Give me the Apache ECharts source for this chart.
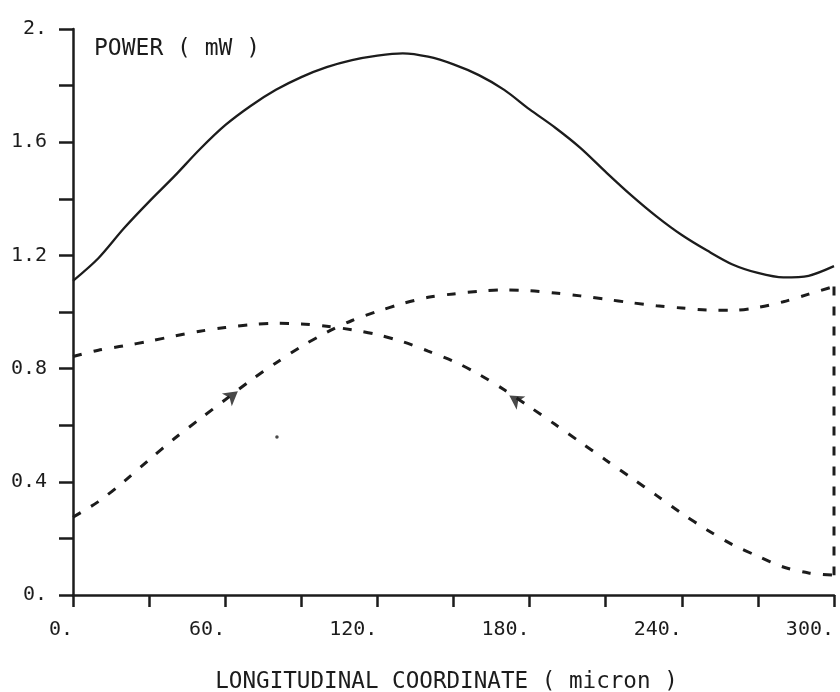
<!DOCTYPE html>
<html>
<head>
<meta charset="utf-8">
<script src="https://cdn.jsdelivr.net/npm/echarts@6/dist/echarts.min.js"></script>
<style>
  html, body { margin: 0; padding: 0; background: #ffffff; }
  #chart { width: 840px; height: 692px; }
</style>
</head>
<body>
<div id="chart"></div>
<script>
// Longitudinal coordinate (micron)
const xValues = [0,10,20,30,40,50,60,70,80,90,100,110,120,130,140,150,160,170,180,190,200,210,220,230,240,250,260,270,280,290,300];
// Total power (solid)
const totalPower = [1.11,1.19,1.295,1.39,1.48,1.575,1.66,1.728,1.785,1.83,1.865,1.89,1.906,1.914,1.902,1.875,1.837,1.785,1.716,1.652,1.58,1.495,1.413,1.338,1.272,1.217,1.168,1.138,1.122,1.128,1.162];
// Forward wave power (dashed, rising from left)
const forwardPower = [0.275,0.33,0.40,0.478,0.553,0.622,0.69,0.758,0.82,0.878,0.928,0.97,1.002,1.03,1.052,1.064,1.073,1.078,1.075,1.067,1.057,1.045,1.033,1.022,1.014,1.007,1.006,1.016,1.036,1.063,1.09];
// Backward wave power (dashed, returning from right)
const backwardPower = [0.843,0.865,0.88,0.897,0.915,0.932,0.945,0.955,0.96,0.958,0.95,0.937,0.92,0.895,0.862,0.826,0.78,0.725,0.665,0.603,0.54,0.477,0.415,0.352,0.288,0.23,0.178,0.137,0.099,0.078,0.07];
// Direction arrows on the dashed curves
const arrowX = [65, 172];
const arrowY = [0.72, 0.705];
// Stray dot in the plot
const dotX = [80.4];
const dotY = [0.558];
// Tick labels
const xTickLabels = ['0.','60.','120.','180.','240.','300.'];
const yTickLabels = ['0.','0.4','0.8','1.2','1.6','2.'];
const yAxisTitle = 'POWER ( mW )';
const xAxisTitle = 'LONGITUDINAL COORDINATE ( micron )';

const ink = '#1c1c1c';
const mono = '"DejaVu Sans Mono", "Liberation Mono", monospace';

const pairs = (xs, ys) => xs.map((x, i) => [x, ys[i]]);
const last = xValues.length - 1;

const chart = echarts.init(document.getElementById('chart'), null, { renderer: 'canvas' });
chart.setOption({
  animation: false,
  backgroundColor: '#ffffff',
  title: {
    text: yAxisTitle,
    left: 94, top: 38, padding: 0,
    textStyle: { fontFamily: mono, fontSize: 23, fontWeight: 'normal', color: ink }
  },
  grid: { left: 73, right: 6, top: 29, bottom: 97, containLabel: false, outerBoundsMode: 'none' },
  xAxis: {
    type: 'value', min: 0, max: 300, interval: 60,
    name: xAxisTitle, nameLocation: 'middle', nameGap: 76,
    nameTextStyle: { fontFamily: mono, fontSize: 22.6, color: ink, padding: [0, 14, 0, 0] },
    axisLine: { show: true, onZero: false, lineStyle: { color: ink, width: 2.5 } },
    axisTick: { show: true, length: 12, lineStyle: { color: ink, width: 2.5 } },
    minorTick: { show: true, splitNumber: 2, length: 12, lineStyle: { color: ink, width: 2.5 } },
    splitLine: { show: false },
    axisLabel: {
      margin: 25, align: 'right', fontFamily: mono, fontSize: 20, color: ink,
      formatter: v => xTickLabels[Math.round(v / 60)] ?? ''
    }
  },
  yAxis: {
    type: 'value', min: 0, max: 2, interval: 0.4,
    axisLine: { show: true, onZero: false, lineStyle: { color: ink, width: 2.5 } },
    axisTick: { show: true, length: 14, lineStyle: { color: ink, width: 2.5 } },
    minorTick: { show: true, splitNumber: 2, length: 14, lineStyle: { color: ink, width: 2.5 } },
    splitLine: { show: false },
    axisLabel: {
      margin: 26, fontFamily: mono, fontSize: 20, color: ink,
      formatter: v => yTickLabels[Math.round(v / 0.4)] ?? ''
    }
  },
  series: [
    {
      name: 'total', type: 'line', data: pairs(xValues, totalPower),
      showSymbol: false, smooth: 0.3,
      lineStyle: { color: ink, width: 2.3 }
    },
    {
      name: 'forward', type: 'line', data: pairs(xValues, forwardPower),
      showSymbol: false, smooth: 0.3,
      lineStyle: { color: ink, width: 3, type: [9, 12] }
    },
    {
      name: 'connector', type: 'line',
      data: [[xValues[last], forwardPower[last]], [xValues[last], backwardPower[last]]],
      showSymbol: false,
      lineStyle: { color: ink, width: 3, type: [9, 11] }
    },
    {
      name: 'backward', type: 'line', data: pairs(xValues, backwardPower),
      showSymbol: false, smooth: 0.3,
      lineStyle: { color: ink, width: 3, type: [9, 12] }
    },
    {
      name: 'arrows', type: 'scatter', symbol: 'arrow', symbolSize: [12, 14],
      itemStyle: { color: ink },
      data: [
        { value: [arrowX[0], arrowY[0]], symbolRotate: -52 },
        { value: [arrowX[1], arrowY[1]], symbolRotate: 57 }
      ]
    },
    {
      name: 'dot', type: 'scatter', symbolSize: 3.5,
      itemStyle: { color: ink },
      data: pairs(dotX, dotY)
    }
  ]
});
</script>
</body>
</html>
